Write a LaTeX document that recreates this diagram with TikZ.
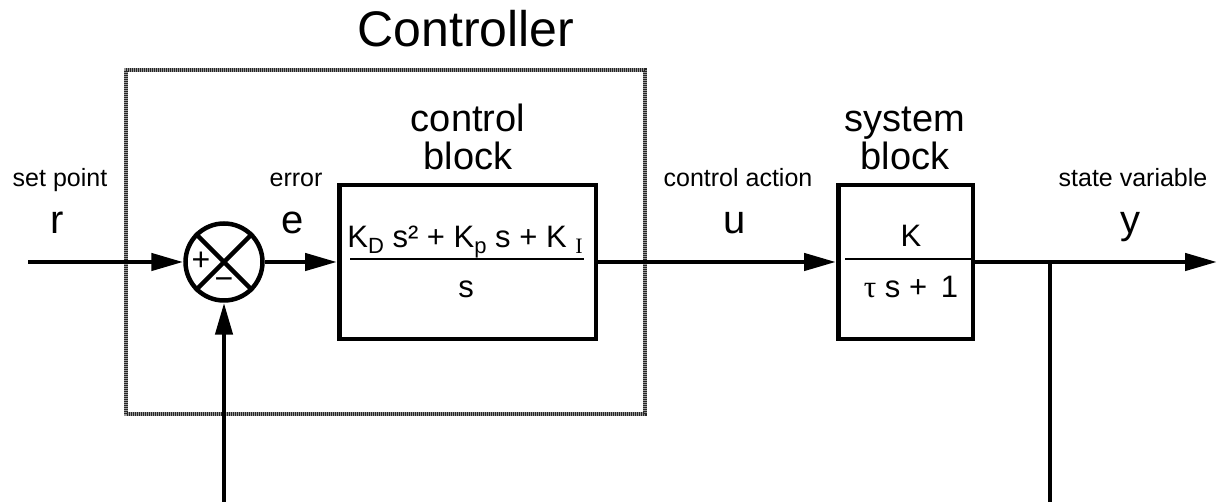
\documentclass[tikz,border=0pt]{standalone}
\usepackage{fontspec}
\setmainfont{Liberation Sans}
\newfontfamily\serifI{Liberation Serif}
\usetikzlibrary{arrows.meta}

\newcommand{\subtxt}[1]{\raisebox{-6pt}{\fontsize{22pt}{22pt}\selectfont #1}}

\begin{document}
\begin{tikzpicture}[x=1pt, y=1pt,
    wire/.style={line width=4.5pt},
    sig/.style={wire, -{Triangle[length=32pt, width=17pt]}},
    blk/.style={draw, line width=4.5pt, minimum height=154pt, inner sep=0pt},
    frame/.style={draw=black!40, line width=4pt,
      postaction={draw=black!85, line width=4pt, dash pattern=on 1pt off 1pt}},
    lbl/.style={anchor=base, font=\fontsize{25pt}{30pt}\selectfont},
    var/.style={anchor=base, font=\fontsize{40pt}{48pt}\selectfont},
    head/.style={anchor=base, font=\fontsize{38pt}{38pt}\selectfont},
    frac/.style={anchor=base, font=\fontsize{31pt}{36pt}\selectfont}]
    \useasboundingbox (0,0) rectangle (1217,502);

    % controller frame
    \draw[frame] (126,88) rectangle (645,432);
    \node[anchor=base, font=\fontsize{50pt}{56pt}\selectfont] (title) at (466,455) {Controller};

    % summing junction
    \node[circle, draw, line width=4.5pt, minimum size=77pt, inner sep=0pt] (sum) at (224,240) {};
    \foreach \a in {45,135,225,315}{
      \draw[wire] (sum.center) -- (sum.\a);
    }
    \node[font=\fontsize{32pt}{36pt}\selectfont] (plus) at (201,241) {+};
    \node[font=\fontsize{32pt}{36pt}\selectfont] (minus) at (224,218) {−};

    % blocks
    \node[blk, minimum width=256.5pt] (ctrl) at (467.5,240) {};
    \node[blk, minimum width=134.5pt] (plant) at (905.5,240) {};
    \draw[line width=2.5pt] (350,243) -- (584,243);
    \draw[line width=2.5pt] (845,243) -- (972,243);
    \node[frac] (ctrlnum) at (465,254) {K\subtxt{D} s² + K\subtxt{p} s + K \subtxt{\serifI I}};
    \node[frac] (ctrlden) at (466,204) {s};
    \node[frac] (plantnum) at (911,255) {K};
    \node[frac] (plantden) at (911,204) {{\serifI τ} s +\, 1};
    \node[head] (ctrlname) at (468,370) {control};
    \node[head] (ctrlblock) at (468,332) {block};
    \node[head] (plantname) at (905,370) {system};
    \node[head] (plantblock) at (905,332) {block};

    % signal labels
    \foreach \n/\x/\t/\v in {r/60/set point/r, e/296/error/e, u/738/control action/u, y/1133/state variable/y}{
      \node[lbl] (\n txt) at (\x,315) {\t};
      \node[var] (\n var) at (\x-3,268) {\v};
    }

    % connectors
    \coordinate (in) at (28,240);
    \coordinate (out) at (1217,240);
    \coordinate (branch) at (1050,240);
    \coordinate (fbend) at (1050,0);
    \coordinate (fbstart) at (224,0);
    \draw[sig] (in) -- (sum);
    \draw[sig] (sum) -- (ctrl);
    \draw[sig] (ctrl) -- (plant);
    \draw[sig] (plant) -- (out);
    \draw[wire] (branch) -- (fbend);
    \draw[sig] (fbstart) -- (sum);
  \end{tikzpicture}
\end{document}
